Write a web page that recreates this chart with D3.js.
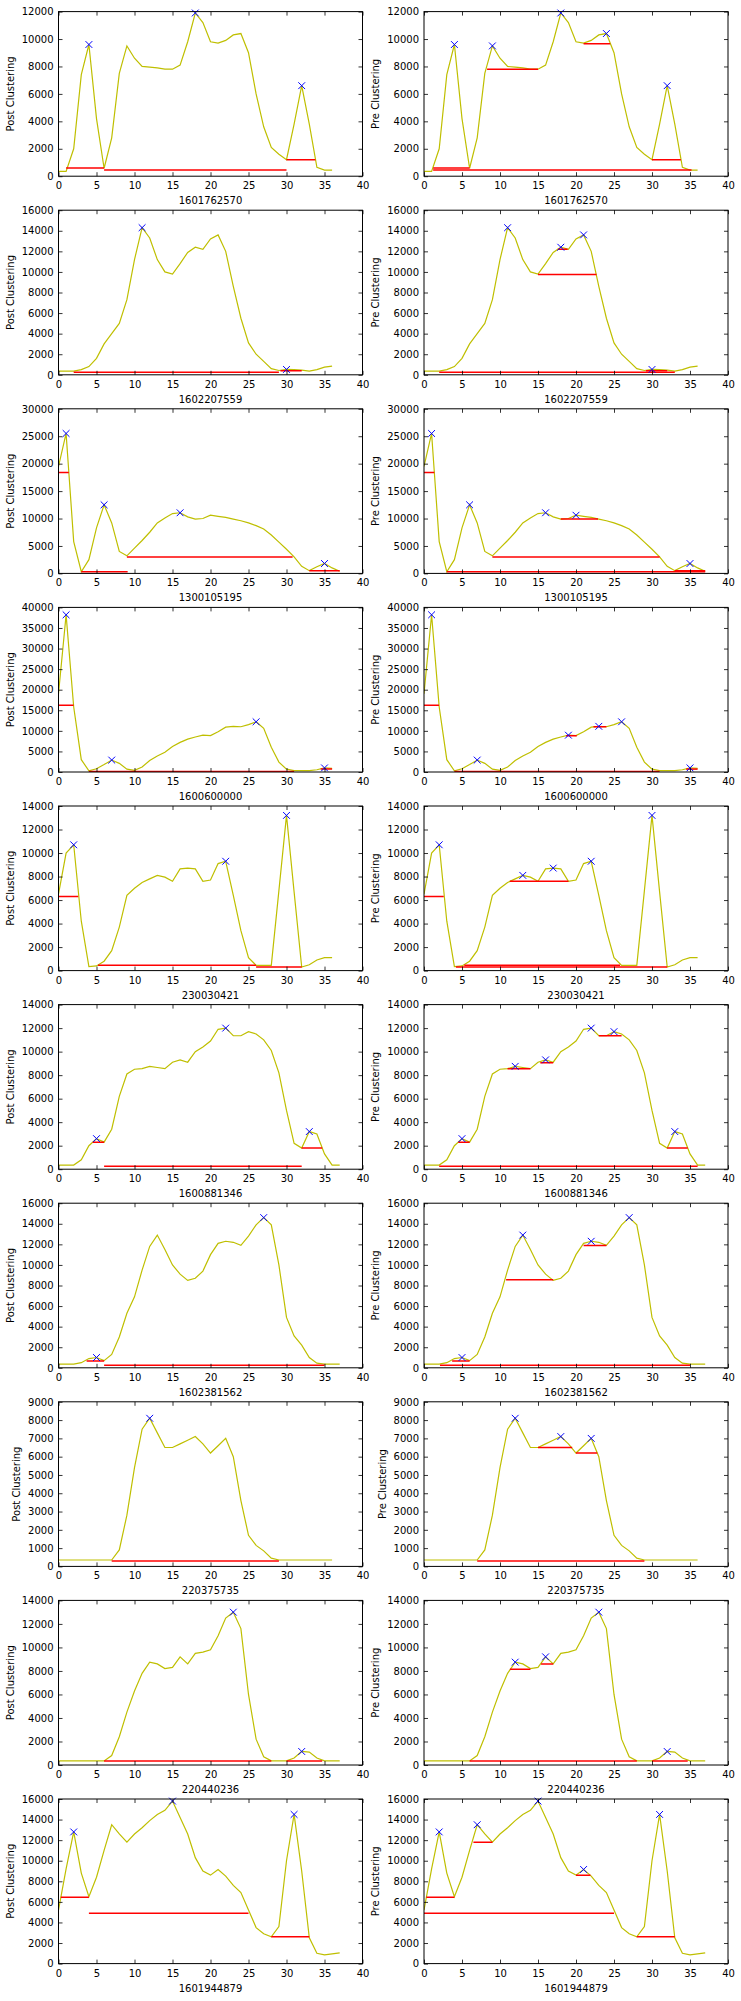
<!DOCTYPE html>
<html>
<head>
<meta charset="utf-8">
<script src="https://cdn.jsdelivr.net/npm/d3@7"></script>
<style>
  html, body { margin: 0; padding: 0; background: #fff; }
  svg { display: block; }
  text { font-family: "DejaVu Sans", sans-serif; font-size: 10px; fill: #000; }
</style>
</head>
<body>
<script>
// Spectrum id for each row of panels
const ids = ["1601762570", "1602207559", "1300105195", "1600600000", "230030421",
             "1600881346", "1602381562", "220375735", "220440236", "1601944879"];

// Y-axis extent and tick step per row
const yMax  = [12000, 16000, 30000, 40000, 14000, 14000, 16000, 9000, 14000, 16000];
const yStep = [2000, 2000, 5000, 5000, 2000, 2000, 2000, 1000, 2000, 2000];

// X-axis ticks (shared)
const xTicks = [0, 5, 10, 15, 20, 25, 30, 35, 40];

// Intensity profile per row, one value per bin starting at 0
const counts = [
  [350,350,2000,7400,9600,4200,580,2800,7500,9500,8600,8000,7950,7900,7800,7800,8100,9800,11900,11200,9800,9700,9900,10300,10400,9000,6000,3600,2100,1600,1200,3800,6600,3800,650,450,450],
  [350,350,350,500,800,1600,3000,4000,5000,7300,11200,14300,13300,11200,10000,9800,10800,11900,12400,12200,13200,13600,12000,8600,5500,3100,2000,1300,600,420,520,500,450,350,500,750,850],
  [19500,25500,5800,300,2500,8300,12500,9200,4000,3200,4600,6000,7500,9200,10100,10900,11050,10300,9900,10000,10600,10400,10200,9900,9600,9200,8700,8100,7000,5700,4400,3000,1300,500,1200,1800,1000,400],
  [19000,38200,15800,3000,300,800,1800,2900,2100,700,400,1200,2800,3900,4800,6200,7200,8000,8500,8950,8850,9800,10900,11100,11000,11500,12200,10600,6000,2400,700,350,350,350,550,1000,900],
  [6500,10000,10700,4200,350,400,800,1700,3700,6400,7000,7500,7800,8100,7950,7600,8650,8720,8650,7600,7700,9100,9300,6400,3400,1100,450,450,450,6800,13200,6700,300,500,900,1100,1100],
  [350,350,350,800,2000,2600,2300,3400,6200,8100,8500,8550,8750,8650,8550,9100,9300,9100,10000,10400,10900,11900,12000,11350,11350,11700,11500,11000,10100,8200,5000,2200,1800,3200,3000,1300,350,350],
  [350,350,350,500,900,1000,700,1300,3000,5300,6900,9500,11800,12900,11500,10000,9100,8500,8700,9400,11000,12100,12300,12200,11900,12800,13900,14600,13900,10000,4900,3100,2200,1000,450,350,350,350],
  [350,350,350,350,350,350,350,350,900,2800,5400,7500,8100,7300,6500,6500,6700,6900,7100,6700,6200,6600,7000,6000,3600,1700,1150,850,450,350,350,350,350,350,350,350,350],
  [350,350,350,350,350,350,350,800,2400,4500,6300,7800,8750,8600,8200,8300,9200,8600,9500,9600,9800,11000,12500,13000,11600,6000,2200,700,350,350,350,600,1150,1100,600,350,350,350],
  [5200,9200,12800,8800,6500,8400,11000,13500,12600,11800,12600,13200,13900,14500,14900,15800,14200,12600,10300,9000,8600,9150,8500,7600,6900,5200,3500,2900,2600,3600,10000,14500,9000,2500,1000,850,950,1050]
];

// Detected peak bins, after and before clustering
const postPeaks = [
  [4, 18, 32], [11, 30], [1, 6, 16, 35], [1, 7, 26, 35], [2, 22, 30],
  [5, 22, 33], [5, 27], [12], [23, 32], [2, 15, 31]
];
const prePeaks = [
  [4, 9, 18, 24, 32], [11, 18, 21, 30], [1, 6, 16, 20, 35], [1, 7, 19, 23, 26, 35], [2, 13, 17, 22, 30],
  [5, 12, 16, 22, 25, 33], [5, 13, 22, 27], [12, 18, 22], [12, 16, 23, 32], [2, 7, 15, 21, 31]
];

// Peak width levels: [height, left bin, right bin]
const postWidths = [
  [[600, 1, 6], [450, 6, 30], [1200, 30, 33.8]],
  [[250, 2, 29], [400, 29.2, 32]],
  [[18400, 0, 1.36], [300, 3, 9.1], [3000, 9, 30.8], [500, 33, 37]],
  [[16200, 0, 1.98], [150, 4, 31], [700, 34.5, 36]],
  [[6300, 0, 2.6], [450, 5.2, 26], [300, 26, 32]],
  [[2300, 4.5, 6], [250, 6, 32], [1800, 32, 34.7]],
  [[650, 3.7, 6], [250, 6, 35]],
  [[300, 7, 29]],
  [[350, 6, 28], [350, 30, 34.7]],
  [[6450, 0.3, 4], [4900, 4, 25], [2600, 28, 33]]
];
const preWidths = [
  [[600, 1.2, 6], [7800, 8.3, 15], [9650, 21, 24.5], [1200, 30, 33.8], [450, 1.2, 35.2]],
  [[250, 2, 33], [9750, 15, 22.7], [12200, 17.6, 18.9], [400, 29.2, 32]],
  [[18400, 0, 1.36], [300, 3, 37], [3000, 9, 31], [9900, 18, 22.9], [500, 33, 37]],
  [[16200, 0, 1.98], [150, 4, 31], [8800, 18.7, 20.1], [11000, 22.3, 24], [700, 34.5, 36]],
  [[6300, 0, 2.6], [450, 5.3, 25.8], [300, 4.2, 32], [7600, 11.3, 19]],
  [[2300, 4.5, 6], [250, 2, 36], [8550, 11, 14], [9050, 15.3, 17], [11350, 23, 26], [1800, 32, 34.7]],
  [[650, 3.7, 6], [250, 2.1, 35], [8550, 10.8, 17], [11900, 21, 24]],
  [[300, 7, 29], [6500, 15, 19.5], [6200, 20, 22.8]],
  [[350, 6, 28], [350, 30, 34.7], [8150, 11.3, 14], [8600, 15.4, 17]],
  [[6450, 0.3, 4], [4900, 0, 25], [11800, 6.5, 9], [8600, 20, 21.9], [2600, 28, 33]]
];

const columns = [
  { title: "Post Clustering", peaks: postPeaks, widths: postWidths, left: 58.5 },
  { title: "Pre Clustering",  peaks: prePeaks,  widths: preWidths,  left: 424 }
];

// Figure geometry
const W = 741, H = 2001;
const plotW = 304, plotH = 164.6, top0 = 11.6, pitch = 198.6;
const tickLen = 4;

const svg = d3.select("body").append("svg")
  .attr("width", W).attr("height", H)
  .attr("viewBox", `0 0 ${W} ${H}`);
svg.append("rect").attr("width", W).attr("height", H).attr("fill", "#fff");

const x = d3.scaleLinear().domain([0, 40]).range([0, plotW]);

ids.forEach((id, r) => {
  const y = d3.scaleLinear().domain([0, yMax[r]]).range([plotH, 0]);
  const yTicks = d3.range(0, yMax[r] + 1, yStep[r]);
  const line = d3.line().x((d, i) => x(i)).y(d => y(d));

  columns.forEach((col, c) => {
    const g = svg.append("g")
      .attr("transform", `translate(${col.left},${top0 + r * pitch})`);
    const clipId = `clip-${r}-${c}`;
    g.append("clipPath").attr("id", clipId)
      .append("rect").attr("width", plotW).attr("height", plotH);

    const plot = g.append("g").attr("clip-path", `url(#${clipId})`);

    // profile
    plot.append("path")
      .datum(counts[r])
      .attr("d", line)
      .attr("fill", "none")
      .attr("stroke", "#bfbf00")
      .attr("stroke-width", 1.2);

    // width levels
    plot.selectAll("line.w").data(col.widths[r]).join("line")
      .attr("class", "w")
      .attr("x1", d => x(d[1])).attr("x2", d => x(d[2]))
      .attr("y1", d => y(d[0])).attr("y2", d => y(d[0]))
      .attr("stroke", "#ff0000")
      .attr("stroke-width", 1.5);

    // peak markers
    const s = 3.4;
    const mk = g.selectAll("g.pk").data(col.peaks[r]).join("g")
      .attr("class", "pk")
      .attr("transform", d => `translate(${x(d)},${y(counts[r][d])})`);
    mk.append("path")
      .attr("d", `M${-s},${-s}L${s},${s}M${-s},${s}L${s},${-s}`)
      .attr("stroke", "#0000ff")
      .attr("stroke-width", 1)
      .attr("fill", "none");

    // axes with inward ticks on all four sides
    const axB = g.append("g").attr("transform", `translate(0,${plotH})`)
      .call(d3.axisBottom(x).tickValues(xTicks).tickFormat(d3.format("d"))
        .tickSizeInner(-tickLen).tickSizeOuter(0).tickPadding(6));
    const axT = g.append("g")
      .call(d3.axisTop(x).tickValues(xTicks).tickFormat(() => "")
        .tickSizeInner(-tickLen).tickSizeOuter(0));
    const axL = g.append("g")
      .call(d3.axisLeft(y).tickValues(yTicks).tickFormat(d3.format("d"))
        .tickSizeInner(-tickLen).tickSizeOuter(0).tickPadding(5));
    const axR = g.append("g").attr("transform", `translate(${plotW},0)`)
      .call(d3.axisRight(y).tickValues(yTicks).tickFormat(() => "")
        .tickSizeInner(-tickLen).tickSizeOuter(0));
    [axB, axT, axL, axR].forEach(a => {
      a.select(".domain").remove();
      a.attr("font-family", null).attr("font-size", null);
      a.selectAll(".tick line").attr("stroke", "#000").attr("stroke-width", 0.8);
    });

    // frame
    g.append("rect")
      .attr("width", plotW).attr("height", plotH)
      .attr("fill", "none").attr("stroke", "#000").attr("stroke-width", 1);

    // x label
    g.append("text")
      .attr("x", plotW / 2).attr("y", plotH + 24.5)
      .attr("text-anchor", "middle")
      .attr("dominant-baseline", "central")
      .text(id);

    // y label placed left of the widest tick label
    let maxW = 0;
    axL.selectAll(".tick text").each(function () {
      maxW = Math.max(maxW, this.getBBox().width);
    });
    g.append("text")
      .attr("transform", `translate(${-5 - maxW - 11.3},${plotH / 2}) rotate(-90)`)
      .attr("text-anchor", "middle")
      .attr("dominant-baseline", "central")
      .text(col.title);
  });
});
</script>
</body>
</html>
